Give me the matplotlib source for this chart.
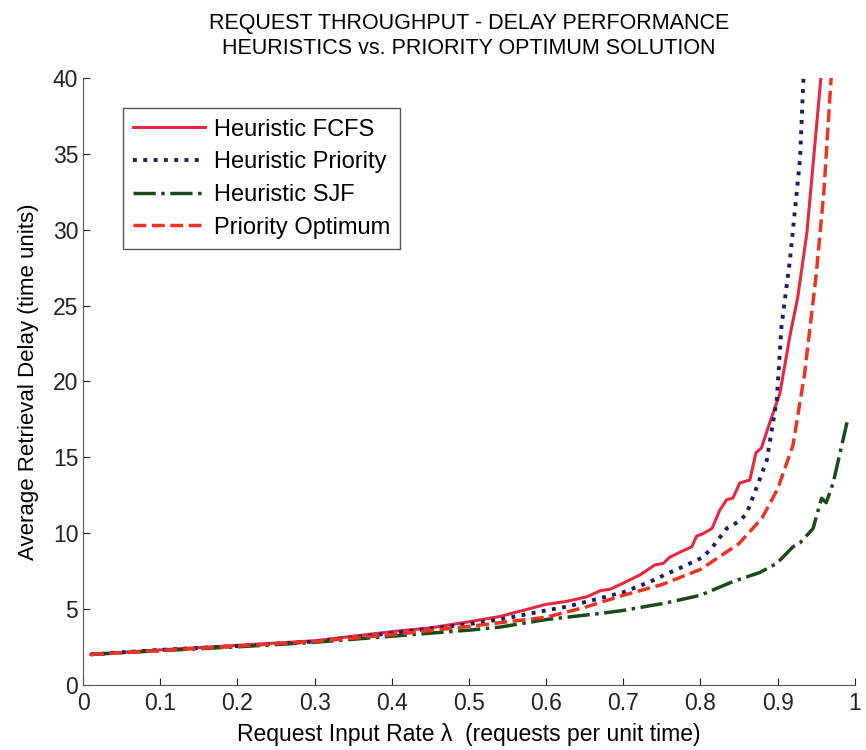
import numpy as np
import matplotlib.pyplot as plt

plt.rcParams['font.family'] = ['Liberation Sans', 'DejaVu Sans']

# Heuristic FCFS
lam_fcfs = [0.01, 0.1, 0.2, 0.3, 0.4, 0.45, 0.5, 0.54, 0.6, 0.627, 0.653, 0.67, 0.683, 0.7,
            0.722, 0.741, 0.752, 0.76, 0.776, 0.789, 0.795, 0.803, 0.815, 0.825, 0.834, 0.842,
            0.851, 0.864, 0.872, 0.879, 0.89, 0.903, 0.916, 0.926, 0.938, 0.957]
d_fcfs = [2.0, 2.3, 2.6, 2.9, 3.5, 3.75, 4.15, 4.5, 5.3, 5.5, 5.8, 6.2, 6.3, 6.7,
          7.25, 7.9, 8.0, 8.4, 8.8, 9.1, 9.8, 9.95, 10.3, 11.5, 12.2, 12.3,
          13.3, 13.5, 15.3, 15.6, 17.3, 19.2, 23.0, 25.5, 29.8, 40.5]

# Heuristic Priority
lam_prio = [0.01, 0.1, 0.2, 0.3, 0.4, 0.5, 0.54, 0.6, 0.627, 0.67, 0.7, 0.735, 0.756, 0.778,
            0.803, 0.816, 0.834, 0.851, 0.86, 0.875, 0.886, 0.899, 0.905, 0.916, 0.929, 0.934]
d_prio = [2.0, 2.3, 2.55, 2.85, 3.4, 4.0, 4.3, 4.9, 5.15, 5.7, 6.1, 6.8, 7.3, 7.8,
          8.4, 9.1, 10.3, 10.8, 11.3, 13.3, 14.8, 18.8, 23.6, 28.0, 34.6, 40.5]

# Heuristic SJF
lam_sjf = [0.01, 0.1, 0.2, 0.3, 0.4, 0.5, 0.54, 0.6, 0.67, 0.7, 0.756, 0.8, 0.842, 0.877,
           0.899, 0.92, 0.929, 0.946, 0.957, 0.963, 0.972, 0.99]
d_sjf = [2.0, 2.25, 2.5, 2.8, 3.2, 3.6, 3.8, 4.3, 4.7, 4.9, 5.4, 5.9, 6.8, 7.4,
         8.0, 9.1, 9.35, 10.3, 12.3, 12.0, 13.3, 17.3]

# Priority Optimum
lam_opt = [0.01, 0.1, 0.2, 0.3, 0.4, 0.5, 0.55, 0.6, 0.65, 0.7, 0.75, 0.8, 0.85, 0.88,
           0.9, 0.92, 0.935, 0.95, 0.96, 0.97]
d_opt = [2.0, 2.25, 2.55, 2.85, 3.3, 3.85, 4.15, 4.45, 5.1, 5.9, 6.6, 7.6, 9.3, 11.0,
         12.9, 15.8, 20.5, 27.0, 32.5, 40.5]

fig = plt.figure(figsize=(8.66, 7.5), dpi=100)
ax = fig.add_axes([0.096, 0.087, 0.891, 0.809])

ax.plot(lam_fcfs, d_fcfs, '-', color='#e8283c', lw=2.2, label='Heuristic FCFS')
ax.plot(lam_prio, d_prio, ':', color='#1c1c6e', lw=2.8, label='Heuristic Priority')
ax.plot(lam_sjf, d_sjf, '-.', color='#1a4a1a', lw=2.5, label='Heuristic SJF')
ax.plot(lam_opt, d_opt, '--', color='#ee3322', lw=2.5, label='Priority Optimum')

ax.set_xlim(0, 1)
ax.set_ylim(0, 40)
ax.set_xticks(np.arange(0, 1.01, 0.1))
ax.set_xticklabels(['0', '0.1', '0.2', '0.3', '0.4', '0.5', '0.6', '0.7', '0.8', '0.9', '1'])
ax.set_yticks(np.arange(0, 41, 5))
ax.tick_params(direction='in', labelsize=16.5, length=5, colors='#222222')
ax.tick_params(axis='x', pad=5)
ax.spines['top'].set_visible(False)
ax.spines['right'].set_visible(False)
ax.spines['left'].set_color('#555555')
ax.spines['bottom'].set_color('#555555')

ax.set_xlabel('Request Input Rate λ  (requests per unit time)', fontsize=16.5, labelpad=6)
ax.set_ylabel('Average Retrieval Delay (time units)', fontsize=16, labelpad=10)
ax.set_title('REQUEST THROUGHPUT - DELAY PERFORMANCE\nHEURISTICS vs. PRIORITY OPTIMUM SOLUTION',
             fontsize=15.5, pad=17, linespacing=1.25)

leg = ax.legend(loc='upper left', bbox_to_anchor=(0.036, 0.97), fontsize=17,
                fancybox=False, framealpha=1, edgecolor='#555555',
                handlelength=3.05, borderpad=0.45, labelspacing=0.45, handletextpad=0.35)

plt.savefig('out.png')
